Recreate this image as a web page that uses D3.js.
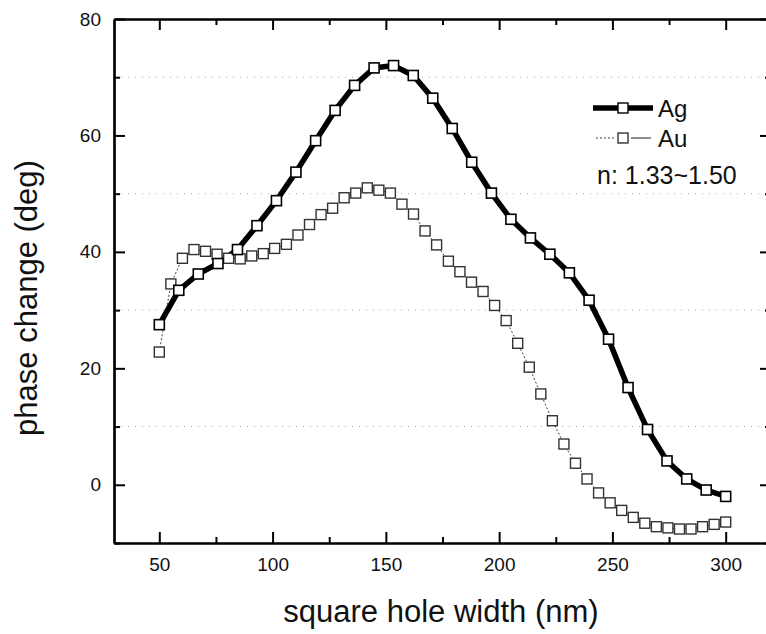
<!DOCTYPE html>
<html>
<head>
<meta charset="utf-8">
<script src="https://cdn.jsdelivr.net/npm/d3@7"></script>
<style>
  html, body { margin: 0; padding: 0; background: #fff; }
  text { font-family: "Liberation Sans", Arial, sans-serif; fill: #111; }
</style>
</head>
<body>
<div id="chart"></div>
<script>
'use strict';

// values
var agWidth = [50, 58.6, 67.2, 75.9, 84.5, 93.1, 101.7, 110.3, 119.0, 127.6,
               136.2, 144.8, 153.4, 162.1, 170.7, 179.3, 187.9, 196.6, 205.2, 213.8,
               222.4, 231.0, 239.7, 248.3, 256.9, 265.5, 274.1, 282.8, 291.4, 300];
var agPhase = [27.5, 33.4, 36.2, 38.0, 40.4, 44.5, 48.8, 53.7, 59.1, 64.3,
               68.6, 71.6, 72.0, 70.3, 66.4, 61.2, 55.4, 50.1, 45.6, 42.4,
               39.6, 36.4, 31.7, 25.0, 16.7, 9.5, 4.1, 1.0, -0.9, -2.0];

var auWidth = [50, 55.1, 60.2, 65.3, 70.4, 75.5, 80.6, 85.7, 90.8, 95.9,
               100.9, 106.1, 111.2, 116.3, 121.4, 126.5, 131.6, 136.7, 141.8, 146.9,
               152.0, 157.1, 162.2, 167.3, 172.4, 177.6, 182.7, 187.8, 192.9, 198.0,
               203.1, 208.2, 213.3, 218.4, 223.5, 228.6, 233.7, 238.8, 243.9, 249.0,
               254.1, 259.2, 264.3, 269.4, 274.5, 279.6, 284.7, 289.8, 294.9, 300];
var auPhase = [22.8, 34.5, 38.9, 40.4, 40.1, 39.6, 38.9, 38.8, 39.3, 39.7,
               40.6, 41.3, 42.9, 44.7, 46.4, 47.5, 49.3, 50.1, 51.0, 50.6,
               50.1, 48.2, 46.5, 43.6, 41.2, 38.4, 36.6, 34.8, 33.2, 30.8,
               28.2, 24.3, 20.2, 15.6, 11.0, 7.0, 3.7, 1.0, -1.4, -3.1,
               -4.4, -5.6, -6.6, -7.2, -7.4, -7.6, -7.6, -7.2, -6.8, -6.4];

var xMajor = [50, 100, 150, 200, 250, 300];
var xMinor = [75, 125, 175, 225, 275];
var yMajor = [0, 20, 40, 60, 80];
var yMinor = [-10, 10, 30, 50, 70];
var gridValues = [10, 30, 50, 70];

var seriesNames = ['Ag', 'Au'];
var noteText = 'n: 1.33~1.50';

function makeChart() {
  var width = 766;
  var height = 634;
  var left = 114, right = 771, top = 19, bottom = 543;

  var svg = d3.select('#chart')
              .append('svg')
              .attr('width', width)
              .attr('height', height);

  var x = d3.scaleLinear().domain([30, 320]).range([left, right]);
  var y = d3.scaleLinear().domain([-10, 80]).range([bottom, top]);

  // faint dotted grid lines at the minor values
  svg.selectAll('.grid')
     .data(gridValues)
     .enter()
     .append('line')
     .attr('x1', left)
     .attr('x2', right)
     .attr('y1', function(d) { return y(d); })
     .attr('y2', function(d) { return y(d); })
     .attr('stroke', '#aaa')
     .attr('stroke-width', 1)
     .attr('stroke-dasharray', '1,6');

  // axes, ticks pointing inward
  function drawAxis(axis, transform) {
    var g = svg.append('g')
               .attr('transform', transform)
               .call(axis);
    g.selectAll('.domain').attr('stroke-width', 2.2).attr('stroke', '#000');
    g.selectAll('.tick line').attr('stroke-width', 2).attr('stroke', '#000');
    return g;
  }

  var bottomAxis = drawAxis(d3.axisBottom(x).tickValues(xMajor).tickSizeInner(-11).tickSizeOuter(0).tickPadding(15),
                            'translate(0,' + bottom + ')');
  bottomAxis.selectAll('text').style('font-size', '19px');
  drawAxis(d3.axisBottom(x).tickValues(xMinor).tickSizeInner(-6).tickSizeOuter(0).tickFormat(''),
           'translate(0,' + bottom + ')');

  drawAxis(d3.axisTop(x).tickValues(xMajor).tickSizeInner(-11).tickSizeOuter(0).tickFormat(''),
           'translate(0,' + top + ')');
  drawAxis(d3.axisTop(x).tickValues(xMinor).tickSizeInner(-6).tickSizeOuter(0).tickFormat(''),
           'translate(0,' + top + ')');

  var leftAxis = drawAxis(d3.axisLeft(y).tickValues(yMajor).tickSizeInner(-11).tickSizeOuter(0).tickPadding(13),
                          'translate(' + left + ',0)');
  leftAxis.selectAll('text').style('font-size', '19px');
  drawAxis(d3.axisLeft(y).tickValues(yMinor).tickSizeInner(-6).tickSizeOuter(0).tickFormat(''),
           'translate(' + left + ',0)');

  drawAxis(d3.axisRight(y).tickValues(yMajor).tickSizeInner(-11).tickSizeOuter(0).tickFormat(''),
           'translate(' + right + ',0)');
  drawAxis(d3.axisRight(y).tickValues(yMinor).tickSizeInner(-6).tickSizeOuter(0).tickFormat(''),
           'translate(' + right + ',0)');

  svg.selectAll('.tick text').attr('fill', '#111');

  // series
  var ag = agWidth.map(function(w, i) { return { w: w, p: agPhase[i] }; });
  var au = auWidth.map(function(w, i) { return { w: w, p: auPhase[i] }; });

  var line = d3.line()
               .x(function(d) { return x(d.w); })
               .y(function(d) { return y(d.p); });

  svg.append('path')
     .attr('d', line(au))
     .attr('fill', 'none')
     .attr('stroke', '#444')
     .attr('stroke-width', 1)
     .attr('stroke-dasharray', '2,2');

  svg.append('path')
     .attr('d', line(ag))
     .attr('fill', 'none')
     .attr('stroke', '#000')
     .attr('stroke-width', 5.5);

  var sq = 10;

  svg.selectAll('.au')
     .data(au)
     .enter()
     .append('rect')
     .attr('x', function(d) { return x(d.w) - sq / 2; })
     .attr('y', function(d) { return y(d.p) - sq / 2; })
     .attr('width', sq)
     .attr('height', sq)
     .attr('fill', '#fff')
     .attr('stroke', '#333')
     .attr('stroke-width', 1.4);

  svg.selectAll('.ag')
     .data(ag)
     .enter()
     .append('rect')
     .attr('x', function(d) { return x(d.w) - sq / 2; })
     .attr('y', function(d) { return y(d.p) - sq / 2; })
     .attr('width', sq)
     .attr('height', sq)
     .attr('fill', '#fff')
     .attr('stroke', '#000')
     .attr('stroke-width', 1.6);

  // legend
  var legend = svg.append('g').attr('transform', 'translate(593,108)');

  legend.append('line')
        .attr('x1', 0).attr('x2', 60).attr('y1', 0).attr('y2', 0)
        .attr('stroke', '#000').attr('stroke-width', 5.5);
  legend.append('line')
        .attr('x1', 3).attr('x2', 22).attr('y1', 30).attr('y2', 30)
        .attr('stroke', '#444').attr('stroke-width', 1).attr('stroke-dasharray', '2,2');
  legend.append('line')
        .attr('x1', 38).attr('x2', 58).attr('y1', 30).attr('y2', 30)
        .attr('stroke', '#444').attr('stroke-width', 1.2);

  legend.selectAll('.lsq')
        .data(seriesNames)
        .enter()
        .append('rect')
        .attr('x', 30 - sq / 2)
        .attr('y', function(d, i) { return i * 30 - sq / 2; })
        .attr('width', sq)
        .attr('height', sq)
        .attr('fill', '#fff')
        .attr('stroke', function(d, i) { return i === 0 ? '#000' : '#333'; })
        .attr('stroke-width', 1.4);

  legend.selectAll('.ltext')
        .data(seriesNames)
        .enter()
        .append('text')
        .attr('x', 65)
        .attr('y', function(d, i) { return i * 30 + 9; })
        .style('font-size', '24px')
        .text(function(d) { return d; });

  svg.append('text')
     .attr('x', 597)
     .attr('y', 184)
     .style('font-size', '25px')
     .text(noteText);

  // axis titles
  svg.append('text')
     .attr('x', 441)
     .attr('y', 622)
     .attr('text-anchor', 'middle')
     .style('font-size', '31px')
     .text('square hole width (nm)');

  svg.append('text')
     .attr('transform', 'translate(37,298) rotate(-90)')
     .attr('text-anchor', 'middle')
     .style('font-size', '31px')
     .text('phase change (deg)');
}

makeChart();
</script>
</body>
</html>
